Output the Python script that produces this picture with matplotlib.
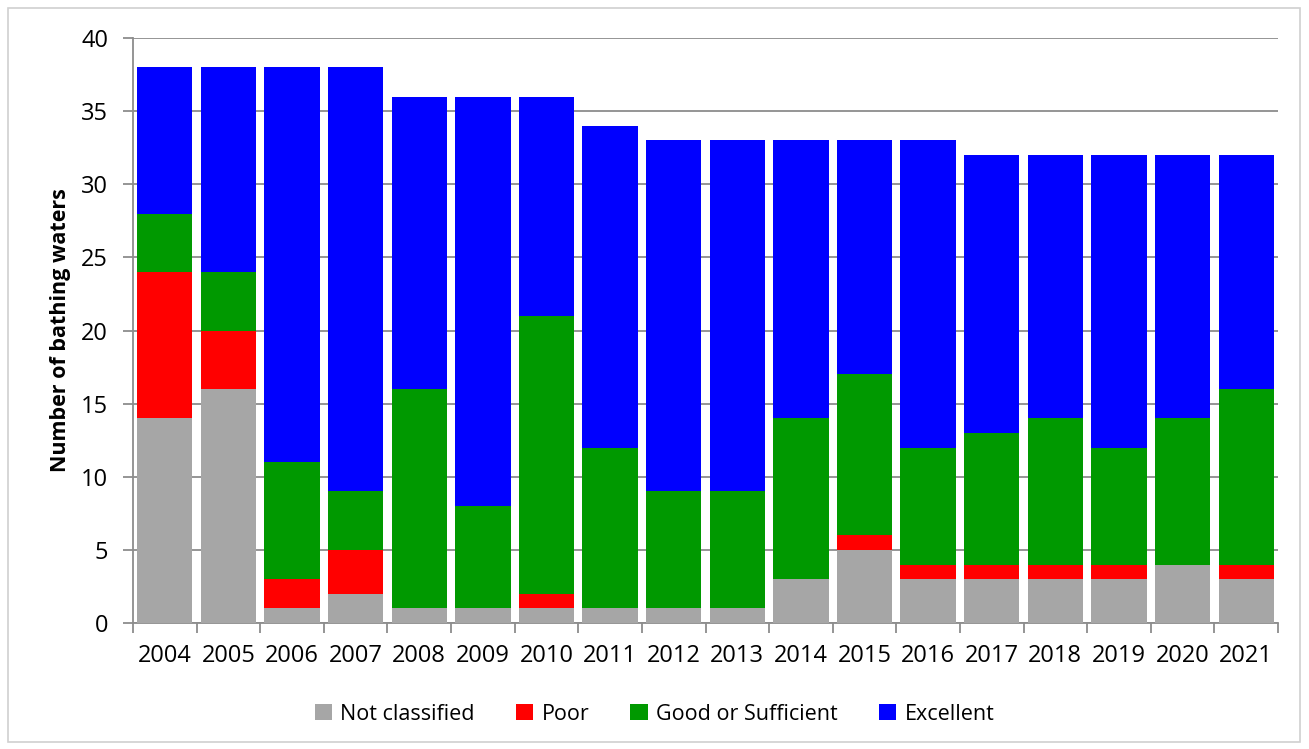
import numpy as np
import matplotlib.pyplot as plt
from matplotlib.patches import Rectangle

plt.rcParams['font.family'] = ['Open Sans', 'DejaVu Sans']

years = ['2004', '2005', '2006', '2007', '2008', '2009', '2010', '2011', '2012',
         '2013', '2014', '2015', '2016', '2017', '2018', '2019', '2020', '2021']
not_classified = [14, 16, 1, 2, 1, 1, 1, 1, 1, 1, 3, 5, 3, 3, 3, 3, 4, 3]
poor = [10, 4, 2, 3, 0, 0, 1, 0, 0, 0, 0, 1, 1, 1, 1, 1, 0, 1]
good = [4, 4, 8, 4, 15, 7, 19, 11, 8, 8, 11, 11, 8, 9, 10, 8, 10, 12]
excellent = [10, 14, 27, 29, 20, 28, 15, 22, 24, 24, 19, 16, 21, 19, 18, 20, 18, 16]

series = [('Not classified', not_classified, '#A6A6A6'),
          ('Poor', poor, '#FF0000'),
          ('Good or Sufficient', good, '#009900'),
          ('Excellent', excellent, '#0000FF')]

fig = plt.figure(figsize=(13.09, 7.49), dpi=100)
ax = fig.add_axes([133 / 1309, 1 - 623 / 749, (1278 - 133) / 1309, (623 - 38) / 749])

x = np.arange(len(years))
bottom = np.zeros(len(years))
for name, vals, col in series:
    vals = np.array(vals, dtype=float)
    ax.bar(x, vals, 0.87, bottom=bottom, color=col, label=name, zorder=3)
    bottom += vals

ax.set_xlim(-0.5, len(years) - 0.5)
ax.set_ylim(0, 40)
ax.set_yticks(range(0, 41, 5))
ax.yaxis.grid(True, color='#8C8C8C', linewidth=1.3, zorder=0)
ax.set_xticks(x)
ax.set_xticklabels(years)
ax.set_xticks(np.arange(-0.5, len(years), 1), minor=True)
ax.tick_params(axis='x', which='major', length=0, pad=15, labelsize=17)
ax.tick_params(axis='x', which='minor', length=7, color='#8C8C8C', width=1.3)
ax.tick_params(axis='y', length=7, color='#8C8C8C', width=1.3, labelsize=17, pad=11)
for s in ['top', 'right']:
    ax.spines[s].set_visible(False)
for s in ['left', 'bottom']:
    ax.spines[s].set_color('#8C8C8C')
    ax.spines[s].set_linewidth(1.3)
ax.set_ylabel('Number of bathing waters', fontsize=15.5, fontweight='bold', labelpad=7)

fig.legend(loc='center', bbox_to_anchor=(0.5, 1 - 714 / 749), ncol=4, frameon=False,
           fontsize=15.5, handlelength=0.8, handleheight=0.8, handletextpad=0.4,
           columnspacing=1.9)

fig.patches.append(Rectangle((8 / 1309, 1 - 742 / 749), 1292 / 1309, 734 / 749,
                             transform=fig.transFigure, fill=False,
                             edgecolor='#D0D0D0', linewidth=1.2))

fig.savefig('out.png', dpi=100)
